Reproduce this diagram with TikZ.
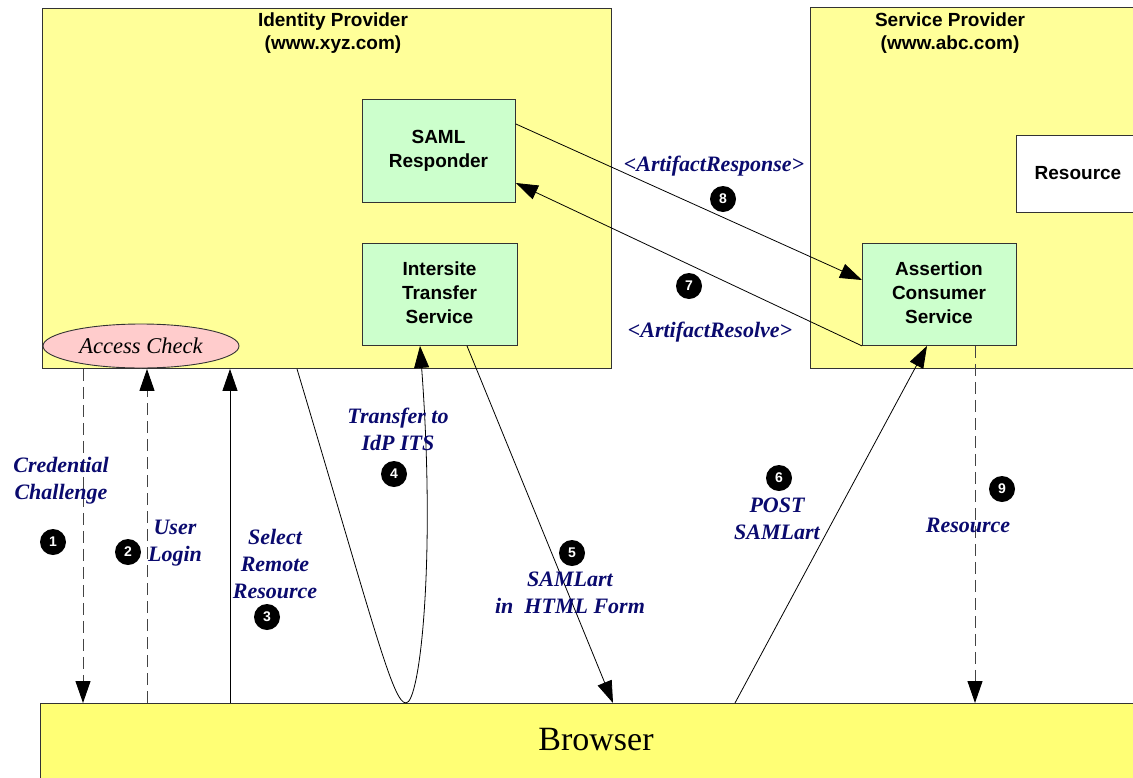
\documentclass[tikz,border=0pt]{standalone}
\usepackage{fontspec}
\setmainfont{Liberation Serif}
\newfontfamily\boxfont{Liberation Sans}
\usetikzlibrary{arrows.meta,shapes.geometric}
\definecolor{siteyellow}{HTML}{FFFF99}
\definecolor{browseryellow}{HTML}{FFFF75}
\definecolor{svcgreen}{HTML}{CCFFCC}
\definecolor{checkpink}{HTML}{FFCCCC}
\definecolor{stepnavy}{HTML}{0A0A6E}
\definecolor{edgegray}{HTML}{333333}
\definecolor{dashgray}{HTML}{444444}
\begin{document}
\begin{tikzpicture}[x=1pt,y=-1pt,
  box/.style={draw=edgegray, line width=0.9pt, inner sep=0pt, anchor=north west},
  ttl/.style={align=center, inner sep=0pt, font=\boxfont\bfseries\fontsize{19}{23}\selectfont},
  svctext/.style={align=center, inner sep=0pt, font=\boxfont\bfseries\fontsize{19}{24}\selectfont},
  lbl/.style={align=center, inner sep=0pt, text=stepnavy, font=\fontsize{22}{27}\selectfont\bfseries\itshape},
  num/.style={circle, fill=black, text=white, minimum size=26pt, inner sep=0pt, font=\boxfont\bfseries\fontsize{14}{14}\selectfont},
  arr/.style={line width=0.8pt, -{Triangle[length=22pt,width=15pt]}},
  darr/.style={line width=1pt, draw=dashgray, dash pattern=on 12pt off 6pt, -{Triangle[length=22pt,width=15pt,color=black]}}
]
\useasboundingbox (0,0) rectangle (1133,777);

% sites and the browser
\node[box, fill=siteyellow, minimum width=569pt, minimum height=360pt] (idp) at (42,8) {};
\node[box, fill=siteyellow, minimum width=340pt, minimum height=361pt] (sp) at (810,7) {};
\node[box, fill=browseryellow, minimum width=1110pt, minimum height=90pt] (browser) at (40,703) {};
\node[font=\fontsize{34}{34}\selectfont, inner sep=0pt] (browsertext) at (596,740) {Browser};

\node[ttl] (idptitle) at (333,33.5) {Identity Provider\\(www.xyz.com)};
\node[ttl] (sptitle) at (950,33.5) {Service Provider\\(www.abc.com)};

% services inside the sites
\node[box, fill=svcgreen, minimum width=153pt, minimum height=103pt] (samlr) at (362,99) {};
\node[svctext] (samlrtext) at (438.5,151) {SAML\\Responder};
\node[box, fill=svcgreen, minimum width=155pt, minimum height=102pt] (its) at (362,243) {};
\node[svctext] (itstext) at (439.5,293) {Intersite\\Transfer\\Service};
\node[box, fill=svcgreen, minimum width=154pt, minimum height=102pt] (acs) at (862,243) {};
\node[svctext] (acstext) at (939,293) {Assertion\\Consumer\\Service};
\node[box, fill=white, minimum width=140pt, minimum height=77pt] (res) at (1016,135) {};
\node[svctext] (restext) at (1078,173) {Resource};

\node[ellipse, draw=edgegray, line width=0.9pt, fill=checkpink, minimum width=196pt, minimum height=44pt, inner sep=0pt,
      font=\fontsize{22.5}{27}\selectfont\itshape] (chk) at (141,346) {Access Check};

% message flow
\draw[darr] ([xshift=41pt]idp.south west) -- ([xshift=43pt]browser.north west);
\draw[darr] ([xshift=107pt]browser.north west) -- ([xshift=105pt]idp.south west);
\draw[arr] ([xshift=190pt]browser.north west) -- ([xshift=188pt]idp.south west);
\draw[arr] ([xshift=255pt]idp.south west) .. controls (375,630) and (393,703) .. ([xshift=366pt]browser.north west)
   .. controls (420,703) and (436,560) .. ([xshift=58pt]its.south west);
\draw[arr] ([xshift=105pt]its.south west) -- ([xshift=573pt]browser.north west);
\draw[arr] ([xshift=695pt]browser.north west) -- ([xshift=65pt]acs.south west);
\draw[arr] (acs.south west) -- ([yshift=-84pt]samlr.north east);
\draw[arr] ([yshift=-25pt]samlr.north east) -- ([yshift=-37pt]acs.north west);
\draw[darr] ([xshift=113pt]acs.south west) -- ([xshift=935pt]browser.north west);

% step labels
\node[lbl] (l1) at (61,481) {Credential\\Challenge};
\node[num] (n1) at (53,542) {1};
\node[num] (n2) at (128,552) {2};
\node[lbl] (l2) at (175,543) {User\\Login};
\node[lbl] (l3) at (275,564) {Select\\Remote\\Resource};
\node[num] (n3) at (267,617) {3};
\node[lbl] (l4) at (398,429) {Transfer to\\IdP ITS};
\node[num] (n4) at (394,474) {4};
\node[num] (n5) at (572,553) {5};
\node[lbl] (l5) at (570,593) {SAMLart\\in\ \ HTML Form};
\node[num] (n6) at (779,478) {6};
\node[lbl] (l6) at (777,519) {POST\\SAMLart};
\node[num] (n9) at (1002,489) {9};
\node[lbl] (l9) at (968,525) {Resource};
\node[lbl] (l8) at (714,166) {<ArtifactResponse>};
\node[num] (n8) at (723,199) {8};
\node[num] (n7) at (689,286) {7};
\node[lbl] (l7) at (710,332) {<ArtifactResolve>};
\end{tikzpicture}
\end{document}
